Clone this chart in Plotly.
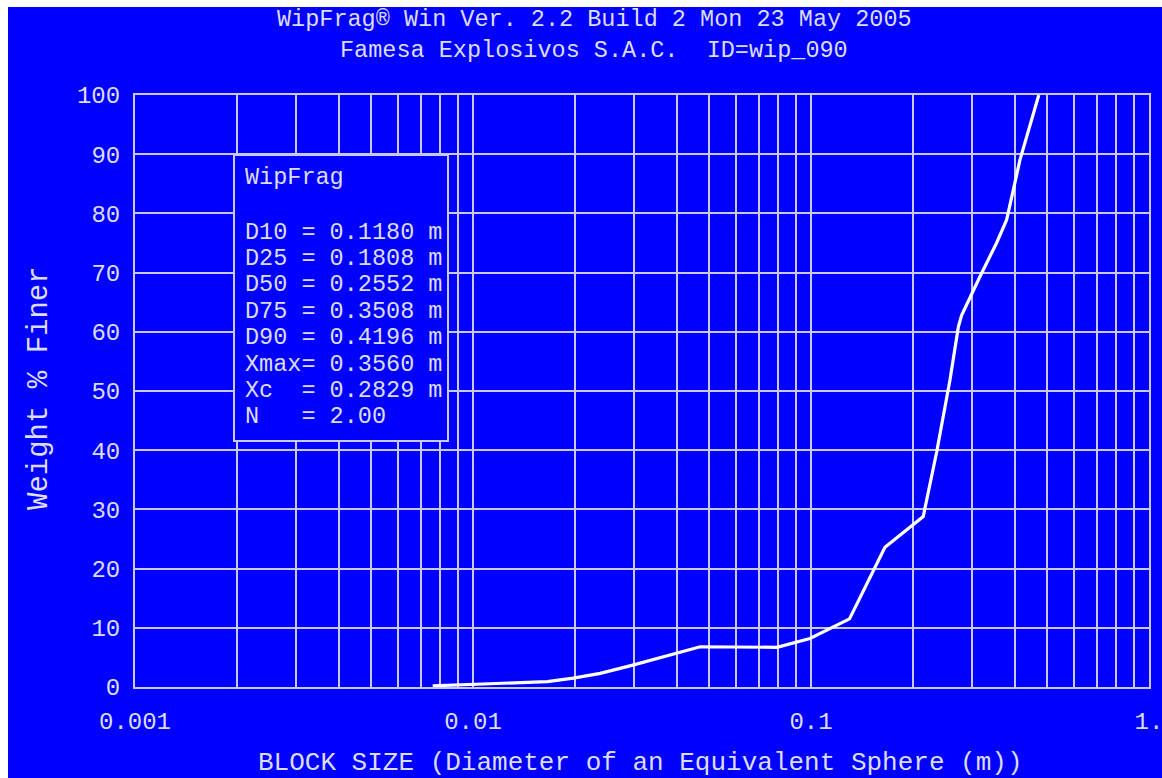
import plotly.graph_objects as go

# Cumulative size distribution (block size in m, weight % finer)
block_size = [0.0076, 0.0129, 0.0166, 0.0198, 0.0238, 0.0297, 0.0402, 0.0470,
              0.0793, 0.0993, 0.130, 0.1655, 0.2148, 0.2354, 0.2578, 0.273,
              0.279, 0.2985, 0.316, 0.354, 0.379, 0.397, 0.415, 0.472]
pct_finer = [0.2, 0.6, 0.9, 1.5, 2.3, 3.7, 5.7, 6.8,
             6.7, 8.2, 11.5, 23.6, 28.8, 39.7, 51.9, 60.9,
             62.8, 66.5, 69.3, 75.0, 78.9, 84.0, 89.0, 100.0]

# Summary statistics shown in the info box
stat_names = ["D10 ", "D25 ", "D50 ", "D75 ", "D90 ", "Xmax", "Xc  ", "N   "]
stat_values = ["0.1180 m", "0.1808 m", "0.2552 m", "0.3508 m", "0.4196 m",
               "0.3560 m", "0.2829 m", "2.00"]

decades = [0.001, 0.01, 0.1, 1.0]
decade_labels = ["0.001", "0.01", "0.1", "1."]
y_ticks = list(range(0, 101, 10))

title_lines = ["WipFrag® Win Ver. 2.2 Build 2 Mon 23 May 2005",
               "Famesa Explosivos S.A.C.  ID=wip_090"]

BG = "#0000ff"
FG = "#dcdcff"
GRID = "#c8c8ff"
FONT = "Liberation Mono"

W, H = 1162, 778
L, R, T, B = 135, 13, 95, 91
PW, PH = W - L - R, H - T - B


def px_x(px):
    return (px - L) / PW


def px_y(py):
    return (H - B - py) / PH


# Log grid: every 1..9 multiple in each decade, labels only at decades
x_tickvals, x_ticktext = [], []
for d in decades[:-1]:
    for m in range(1, 10):
        v = d * m
        x_tickvals.append(v)
        x_ticktext.append(decade_labels[decades.index(d)] if m == 1 else "")
x_tickvals.append(decades[-1])
x_ticktext.append(decade_labels[-1])

fig = go.Figure()
fig.add_trace(go.Scatter(
    x=block_size, y=pct_finer, mode="lines",
    line=dict(color="#ffffff", width=3.2), showlegend=False,
))

fig.update_layout(
    width=W, height=H,
    margin=dict(l=L, r=R, t=T, b=B),
    paper_bgcolor=BG, plot_bgcolor=BG,
    template="none",
    font=dict(family=FONT, color=FG, size=24),
    showlegend=False,
)

fig.update_xaxes(
    type="log", range=[-3, 0], automargin=False,
    tickmode="array", tickvals=x_tickvals, ticktext=x_ticktext,
    ticklabeloverflow="allow",
    showgrid=True, gridcolor=GRID, gridwidth=2,
    showline=True, linecolor=GRID, linewidth=2, mirror=True,
    ticks="outside", ticklen=11, tickcolor="rgba(0,0,0,0)",
    tickfont=dict(family=FONT, size=24, color=FG),
    zeroline=False,
)
fig.update_yaxes(
    range=[0, 100], automargin=False,
    tickmode="array", tickvals=y_ticks,
    showgrid=True, gridcolor=GRID, gridwidth=2,
    showline=True, linecolor=GRID, linewidth=2, mirror=True,
    ticks="outside", ticklen=8, tickcolor="rgba(0,0,0,0)",
    tickfont=dict(family=FONT, size=24, color=FG),
    zeroline=False,
)

shapes = [
    # white page margins at top and left
    dict(type="rect", xref="paper", yref="paper",
         x0=px_x(0), x1=px_x(8), y0=px_y(H), y1=px_y(0),
         fillcolor="#ffffff", line=dict(width=0), layer="above"),
    dict(type="rect", xref="paper", yref="paper",
         x0=px_x(0), x1=px_x(W), y0=px_y(7), y1=px_y(0),
         fillcolor="#ffffff", line=dict(width=0), layer="above"),
    # info box
    dict(type="rect", xref="paper", yref="paper",
         x0=px_x(234), x1=px_x(448), y0=px_y(441), y1=px_y(155),
         fillcolor=BG, line=dict(color=GRID, width=2), layer="above"),
]
fig.update_layout(shapes=shapes)

annotations = []
for i, line in enumerate(title_lines):
    annotations.append(dict(
        text=line, xref="paper", yref="paper",
        x=px_x(594), y=px_y(20 + 31 * i), xanchor="center", yanchor="middle",
        showarrow=False, font=dict(family=FONT, size=23.5, color=FG),
    ))

annotations.append(dict(
    text="BLOCK SIZE (Diameter of an Equivalent Sphere (m))",
    xref="paper", yref="paper", x=px_x(640), y=px_y(763),
    xanchor="center", yanchor="middle", showarrow=False,
    font=dict(family=FONT, size=26, color=FG),
))
annotations.append(dict(
    text="Weight % Finer", textangle=-90,
    xref="paper", yref="paper", x=px_x(39), y=px_y(388),
    xanchor="center", yanchor="middle", showarrow=False,
    font=dict(family=FONT, size=29, color=FG),
))

annotations.append(dict(
    text="WipFrag", xref="paper", yref="paper",
    x=px_x(243), y=px_y(177), xanchor="left", yanchor="middle",
    showarrow=False, font=dict(family=FONT, size=23.5, color=FG),
))
for i, (name, val) in enumerate(zip(stat_names, stat_values)):
    annotations.append(dict(
        text=f"{name}= {val}".replace(" ", "&nbsp;"),
        xref="paper", yref="paper",
        x=px_x(243), y=px_y(232 + 26.4 * i), xanchor="left", yanchor="middle",
        showarrow=False, font=dict(family=FONT, size=23.5, color=FG),
    ))
fig.update_layout(annotations=annotations)

fig.write_html("out.html")
